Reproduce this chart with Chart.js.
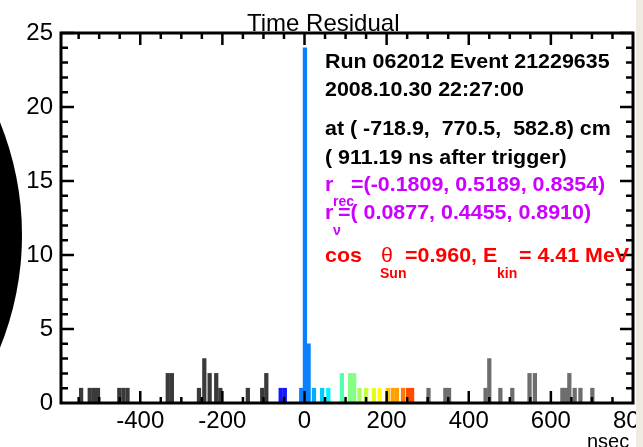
<!DOCTYPE html>
<html>
<head>
<meta charset="utf-8">
<script src="https://cdn.jsdelivr.net/npm/chart.js@4.4.0/dist/chart.umd.min.js"></script>
<style>
  body { margin: 0; background: #fff; }
  #wrap { position: relative; width: 643px; height: 447px; overflow: hidden; background: #fff; }
  #disc { position: absolute; left: -578px; top: -65px; width: 600px; height: 600px; border-radius: 50%; background: #000; }
  #chart { position: absolute; left: 0; top: 0; }
  .t { position: absolute; white-space: pre; font-family: 'Liberation Sans', Arial, Helvetica, sans-serif; }
  .title { font-size: 24px; line-height: 24px; color: #000; }
  .info { font-weight: bold; font-size: 21px; line-height: 21px; transform: scaleX(1.02); transform-origin: 0 0; }
  .sub { font-weight: bold; font-size: 14px; line-height: 14px; }
  .blk { color: #000; }
  .mag { color: #cc00ff; }
  .red { color: #ff0000; }
  #edge { position: absolute; left: 636px; top: 0; width: 7px; height: 447px; background: #f0ebe0; }
</style>
</head>
<body>
<div id="wrap">
  <div id="disc"></div>
  <canvas id="chart" width="643" height="447"></canvas>

  <div class="t title" style="left:247px;top:11px">Time Residual</div>

  <div class="t info blk" style="left:325px;top:50px">Run 062012 Event 21229635</div>
  <div class="t info blk" style="left:325px;top:78px">2008.10.30 22:27:00</div>
  <div class="t info blk" style="left:325px;top:117px">at ( -718.9,  770.5,  582.8) cm</div>
  <div class="t info blk" style="left:325px;top:146px">( 911.19 ns after trigger)</div>

  <div class="t info mag" style="left:325px;top:173px">r</div>
  <div class="t sub mag" style="left:333px;top:194px">rec</div>
  <div class="t info mag" style="left:351px;top:173px">=(-0.1809, 0.5189, 0.8354)</div>

  <div class="t info mag" style="left:325px;top:201px">r</div>
  <div class="t sub mag" style="left:333px;top:223px">ν</div>
  <div class="t info mag" style="left:338px;top:201px">=( 0.0877, 0.4455, 0.8910)</div>

  <div class="t info red" style="left:325px;top:244px">cos</div>
  <div class="t info red" style="left:381px;top:244px;font-weight:normal">θ</div>
  <div class="t sub red" style="left:380px;top:266px">Sun</div>
  <div class="t info red" style="left:405px;top:244px">=0.960, E</div>
  <div class="t sub red" style="left:497px;top:266px">kin</div>
  <div class="t info red" style="left:519px;top:244px">= 4.41 MeV</div>

  <div class="t" style="left:587px;top:431px;font-size:20px;line-height:20px">nsec</div>
  <div id="edge"></div>
</div>

<script>
// time residual histogram, bin centre (ns) and number of hits
const binTimes = [-544, -523, -513, -503, -451, -441, -431, -333, -323,
  -257, -244, -231, -215, -205, -138, -103, -93, -58, -48,
  -8, 1, 10, 23, 43, 58, 91, 111, 121, 134, 150, 169, 183, 203, 215, 225, 240, 252, 262,
  302, 343, 352, 441, 450, 477, 506, 548, 561, 628, 637, 645, 658, 672, 701];
const binCounts = [1, 1, 1, 1, 1, 1, 1, 2, 2,
  1, 3, 2, 2, 1, 1, 1, 2, 1, 1,
  1, 24, 4, 1, 1, 1, 2, 2, 2, 1, 1, 1, 1, 1, 1, 1, 1, 1, 1,
  1, 1, 1, 1, 3, 1, 1, 2, 2, 1, 1, 2, 1, 1, 1];
const xTickValues = [-400, -200, 0, 200, 400, 600, 800];
const yTickValues = [0, 5, 10, 15, 20, 25];

// hit colour by time window
function barColor(t) {
  if (t < -70) return '#3a3a3a';
  if (t < -20) return '#1414ff';
  if (t < 15) return '#0a80ff';
  if (t < 33) return '#00aeff';
  if (t < 50) return '#00ccff';
  if (t < 75) return '#00f0ff';
  if (t < 100) return '#50ffb0';
  if (t < 128) return '#84ff84';
  if (t < 140) return '#a8ff5c';
  if (t < 160) return '#c8ff3c';
  if (t < 176) return '#e4ff14';
  if (t < 195) return '#ffff00';
  if (t < 210) return '#ffc400';
  if (t < 232) return '#ffa000';
  if (t < 246) return '#ff7800';
  if (t < 280) return '#ff4a00';
  return '#6e6e6e';
}

// frame with inward ticks on all four sides
const frameTicks = {
  id: 'frameTicks',
  afterDraw(chart) {
    const ctx = chart.ctx, a = chart.chartArea;
    const x = chart.scales.x, y = chart.scales.y;
    ctx.save();
    ctx.strokeStyle = '#000';
    ctx.lineWidth = 2.5;
    ctx.beginPath();
    for (let v = Math.ceil(x.min / 50) * 50; v <= x.max; v += 50) {
      const px = x.getPixelForValue(v);
      if (px < a.left + 2 || px > a.right - 2) continue;
      const len = v % 200 === 0 ? 12 : 6;
      ctx.moveTo(px, a.bottom); ctx.lineTo(px, a.bottom - len);
      ctx.moveTo(px, a.top); ctx.lineTo(px, a.top + len);
    }
    for (let v = 1; v <= 25; v++) {
      const py = y.getPixelForValue(v);
      const len = v % 5 === 0 ? 13 : 7;
      ctx.moveTo(a.left, py); ctx.lineTo(a.left + len, py);
      ctx.moveTo(a.right, py); ctx.lineTo(a.right - len, py);
    }
    ctx.stroke();
    ctx.lineWidth = 3;
    ctx.strokeRect(a.left, a.top, a.right - a.left, a.bottom - a.top);
    ctx.restore();
  }
};

Chart.defaults.font.family = "'Liberation Sans', Arial, Helvetica, sans-serif";
Chart.defaults.color = '#000';

const ctx = document.getElementById('chart').getContext('2d');
const chart = new Chart(ctx, {
  type: 'bar',
  data: {
    datasets: [{
      data: binTimes.map((t, i) => ({ x: t, y: binCounts[i] })),
      backgroundColor: binTimes.map(barColor),
      borderWidth: 0,
      barThickness: 3.6
    }]
  },
  options: {
    responsive: false,
    animation: false,
    layout: { padding: { top: 33, right: 10, left: 0, bottom: 0 } },
    plugins: { legend: { display: false }, tooltip: { enabled: false }, title: { display: false } },
    scales: {
      x: {
        type: 'linear',
        min: -593,
        max: 800,
        offset: false,
        grid: { display: false, drawTicks: false },
        border: { display: false },
        ticks: { font: { size: 24 }, padding: 4, maxRotation: 0, autoSkip: false },
        afterBuildTicks: s => { s.ticks = xTickValues.map(v => ({ value: v })); },
        afterFit: s => { s.height = 44; s.paddingLeft = 0; s.paddingRight = 0; }
      },
      y: {
        min: 0,
        max: 25,
        grid: { display: false, drawTicks: false },
        border: { display: false },
        ticks: { font: { size: 24 }, padding: 8 },
        afterBuildTicks: s => { s.ticks = yTickValues.map(v => ({ value: v })); },
        afterFit: s => { s.width = 61; }
      }
    }
  },
  plugins: [frameTicks]
});
</script>
</body>
</html>
